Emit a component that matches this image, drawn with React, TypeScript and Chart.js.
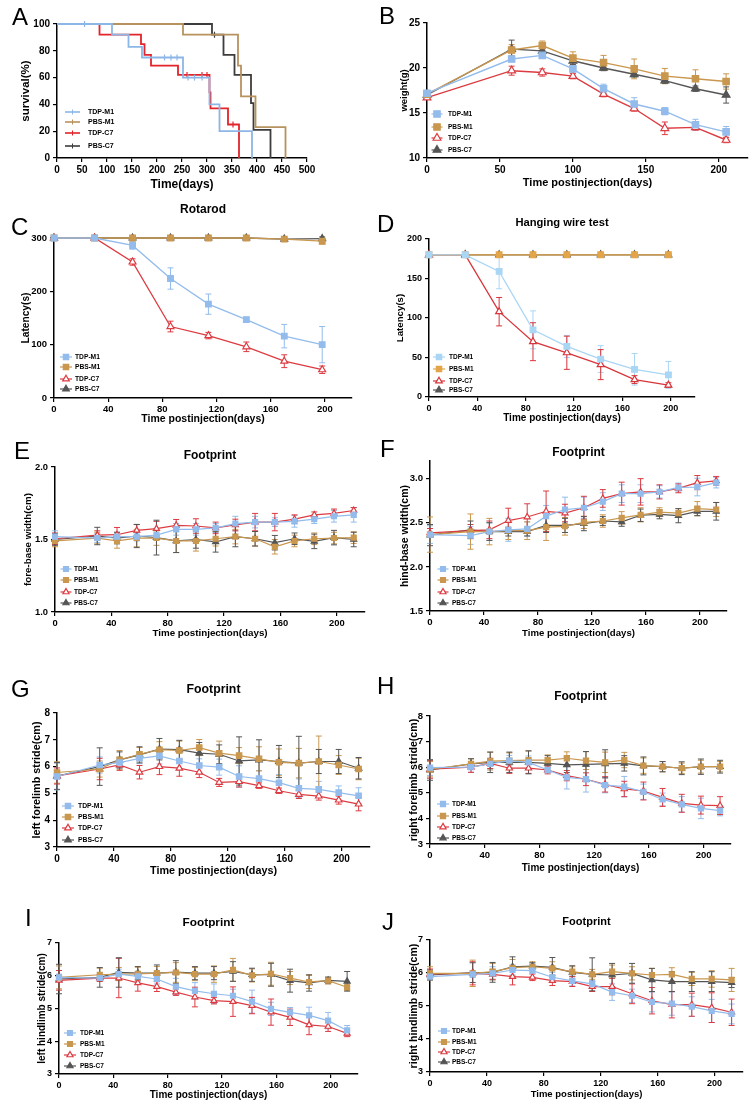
import React, { useEffect, useRef } from "react";
import { Chart, registerables } from "chart.js";

Chart.register(...registerables);

const FONT = "'Liberation Sans', Arial, Helvetica, sans-serif";
Chart.defaults.font.family = FONT;
Chart.defaults.color = "#000";

// ================= DATA =================
const GROUPS = ["TDP-M1", "PBS-M1", "TDP-C7", "PBS-C7"];

// A — survival (Kaplan-Meier), 1 = censored mark
const A_TDP_M1_DAYS = [0, 55, 110, 143, 170, 215, 228, 240, 252, 262, 275, 290, 305, 325, 390];
const A_TDP_M1_SURV = [100, 100, 92, 83, 75, 75, 75, 75, 60, 60, 60, 60, 40, 20, 0];
const A_TDP_M1_CENS = [0, 1, 0, 0, 0, 1, 1, 1, 0, 1, 1, 1, 0, 0, 0];
const A_PBS_M1_DAYS = [0, 252, 362, 368, 397, 457];
const A_PBS_M1_SURV = [100, 92, 69, 46, 23, 0];
const A_PBS_M1_CENS = [0, 0, 0, 0, 0, 0];
const A_TDP_C7_DAYS = [0, 85, 168, 175, 188, 242, 260, 290, 300, 305, 307, 342, 352, 364];
const A_TDP_C7_SURV = [100, 92, 85, 77, 69, 62, 62, 62, 62, 49, 37, 25, 25, 0];
const A_TDP_C7_CENS = [0, 0, 0, 0, 0, 0, 1, 1, 1, 0, 0, 0, 1, 0];
const A_PBS_C7_DAYS = [0, 310, 315, 333, 355, 388, 393, 427];
const A_PBS_C7_SURV = [100, 92, 92, 77, 62, 41, 21, 0];
const A_PBS_C7_CENS = [0, 0, 1, 0, 0, 0, 0, 0];

// B — weight
const WEIGHT_DAYS = [0, 58, 79, 100, 121, 142, 163, 184, 205];
const WEIGHT_TDP_M1 = [17.2, 21.0, 21.4, 19.9, 17.7, 16.0, 15.2, 13.7, 12.9];
const WEIGHT_TDP_M1_SEM = [0.3, 0.3, 0.3, 0.3, 0.5, 0.7, 0.4, 0.6, 0.6];
const WEIGHT_PBS_M1 = [17.1, 22.0, 22.5, 21.1, 20.6, 19.9, 19.1, 18.8, 18.5];
const WEIGHT_PBS_M1_SEM = [0.3, 0.6, 0.5, 0.7, 0.8, 1.1, 0.85, 1.0, 0.85];
const WEIGHT_TDP_C7 = [16.7, 19.7, 19.5, 19.1, 17.1, 15.5, 13.3, 13.4, 12.0];
const WEIGHT_TDP_C7_SEM = [0.2, 0.5, 0.4, 0.3, 0.3, 0.3, 0.7, 0.3, 0.3];
const WEIGHT_PBS_C7 = [17.0, 22.1, 21.9, 20.8, 20.0, 19.3, 18.6, 17.7, 17.0];
const WEIGHT_PBS_C7_SEM = [0.3, 1.0, 0.4, 0.4, 0.3, 0.3, 0.3, 0.3, 0.9];

// C — rotarod, D — hanging wire
const TEST_DAYS = [0, 30, 58, 86, 114, 142, 170, 198];
const ROTAROD_TDP_M1 = [300, 300, 286, 224, 176, 147, 116, 100];
const ROTAROD_TDP_M1_SEM = [0, 0, 7, 20, 19, 4, 22, 34];
const ROTAROD_PBS_M1 = [300, 300, 300, 300, 300, 300, 298, 294];
const ROTAROD_PBS_M1_SEM = [0, 0, 0, 0, 0, 0, 3, 5];
const ROTAROD_TDP_C7 = [300, 300, 255, 134, 117, 96, 69, 53];
const ROTAROD_TDP_C7_SEM = [0, 0, 6, 10, 6, 9, 12, 7];
const ROTAROD_PBS_C7 = [300, 300, 300, 300, 300, 300, 298, 299];
const ROTAROD_PBS_C7_SEM = [0, 0, 0, 0, 0, 0, 2, 3];

const WIRE_TDP_M1 = [180, 180, 159, 85, 64, 48, 35, 28];
const WIRE_TDP_M1_SEM = [0, 0, 22, 24, 14, 17, 20, 17];
const WIRE_PBS_M1 = [180, 180, 180, 180, 180, 180, 180, 180];
const WIRE_PBS_M1_SEM = [0, 0, 0, 0, 0, 0, 0, 0];
const WIRE_TDP_C7 = [180, 180, 108, 70, 56, 41, 22, 15];
const WIRE_TDP_C7_SEM = [0, 0, 18, 24, 21, 19, 5, 3];
const WIRE_PBS_C7 = [180, 180, 180, 180, 180, 180, 180, 180];
const WIRE_PBS_C7_SEM = [0, 0, 0, 0, 0, 0, 0, 0];

// E–J — footprint
const FOOT_DAYS = [0, 30, 44, 58, 72, 86, 100, 114, 128, 142, 156, 170, 184, 198, 212];

const FORE_TDP_M1 = [1.52, 1.51, 1.52, 1.52, 1.53, 1.57, 1.57, 1.58, 1.61, 1.62, 1.62, 1.625, 1.64, 1.66, 1.67];
const FORE_TDP_M1_SEM = [0.04, 0.03, 0.03, 0.03, 0.03, 0.04, 0.04, 0.03, 0.05, 0.04, 0.03, 0.04, 0.03, 0.04, 0.05];
const FORE_PBS_M1 = [1.49, 1.51, 1.49, 1.51, 1.51, 1.49, 1.49, 1.505, 1.52, 1.505, 1.45, 1.49, 1.505, 1.51, 1.513];
const FORE_PBS_M1_SEM = [0.04, 0.04, 0.05, 0.06, 0.05, 0.08, 0.07, 0.05, 0.05, 0.05, 0.05, 0.04, 0.04, 0.04, 0.04];
const FORE_TDP_C7 = [1.505, 1.53, 1.533, 1.563, 1.575, 1.598, 1.593, 1.58, 1.6, 1.62, 1.62, 1.64, 1.67, 1.68, 1.7];
const FORE_TDP_C7_SEM = [0.04, 0.03, 0.05, 0.04, 0.05, 0.04, 0.05, 0.04, 0.04, 0.06, 0.06, 0.03, 0.02, 0.03, 0.02];
const FORE_PBS_C7 = [1.5, 1.524, 1.51, 1.524, 1.513, 1.49, 1.5, 1.483, 1.52, 1.505, 1.478, 1.505, 1.487, 1.513, 1.5];
const FORE_PBS_C7_SEM = [0.04, 0.06, 0.04, 0.08, 0.12, 0.08, 0.06, 0.07, 0.07, 0.05, 0.05, 0.04, 0.05, 0.05, 0.05];

const HIND_TDP_M1 = [2.366, 2.355, 2.4, 2.42, 2.43, 2.575, 2.65, 2.67, 2.74, 2.83, 2.83, 2.85, 2.9, 2.905, 2.955];
const HIND_TDP_M1_SEM = [0.1, 0.1, 0.1, 0.13, 0.08, 0.12, 0.14, 0.12, 0.1, 0.1, 0.1, 0.07, 0.05, 0.1, 0.06];
const HIND_PBS_M1 = [2.366, 2.4, 2.4, 2.41, 2.41, 2.45, 2.46, 2.505, 2.52, 2.556, 2.59, 2.62, 2.61, 2.66, 2.65];
const HIND_PBS_M1_SEM = [0.2, 0.2, 0.15, 0.1, 0.1, 0.15, 0.1, 0.07, 0.07, 0.07, 0.08, 0.05, 0.05, 0.08, 0.08];
const HIND_TDP_C7 = [2.385, 2.41, 2.42, 2.525, 2.565, 2.63, 2.61, 2.67, 2.776, 2.83, 2.85, 2.85, 2.89, 2.955, 2.975];
const HIND_TDP_C7_SEM = [0.05, 0.07, 0.1, 0.14, 0.15, 0.23, 0.1, 0.13, 0.1, 0.13, 0.15, 0.08, 0.05, 0.08, 0.05];
const HIND_PBS_C7 = [2.36, 2.42, 2.4, 2.4, 2.4, 2.47, 2.47, 2.49, 2.52, 2.51, 2.585, 2.595, 2.58, 2.63, 2.63];
const HIND_PBS_C7_SEM = [0.12, 0.1, 0.1, 0.05, 0.05, 0.08, 0.08, 0.08, 0.05, 0.05, 0.07, 0.05, 0.08, 0.05, 0.1];

const LFORE_TDP_M1 = [5.63, 6.06, 6.15, 6.31, 6.4, 6.21, 6.04, 5.98, 5.63, 5.55, 5.4, 5.19, 5.15, 5.03, 4.91];
const LFORE_TDP_M1_SEM = [0.5, 0.3, 0.2, 0.2, 0.3, 0.3, 0.25, 0.3, 0.4, 0.3, 0.3, 0.35, 0.3, 0.25, 0.3];
const LFORE_PBS_M1 = [5.78, 5.91, 6.25, 6.46, 6.63, 6.6, 6.71, 6.5, 6.41, 6.29, 6.16, 6.13, 6.19, 6.06, 5.91];
const LFORE_PBS_M1_SEM = [0.4, 0.3, 0.35, 0.25, 0.3, 0.35, 0.3, 0.45, 0.3, 0.45, 0.5, 0.55, 0.95, 0.35, 0.4];
const LFORE_TDP_C7 = [5.65, 5.91, 6.06, 5.79, 6.0, 5.94, 5.79, 5.41, 5.44, 5.29, 5.1, 4.96, 4.9, 4.75, 4.6];
const LFORE_TDP_C7_SEM = [0.3, 0.4, 0.2, 0.25, 0.3, 0.3, 0.2, 0.15, 0.2, 0.1, 0.1, 0.15, 0.15, 0.15, 0.25];
const LFORE_PBS_C7 = [5.65, 6.0, 6.25, 6.44, 6.65, 6.63, 6.5, 6.46, 6.21, 6.25, 6.19, 6.13, 6.19, 6.19, 5.94];
const LFORE_PBS_C7_SEM = [0.5, 0.7, 0.3, 0.3, 0.4, 0.35, 0.4, 0.35, 0.9, 0.75, 0.6, 1.0, 0.45, 0.45, 0.4];

const RFORE_TDP_M1 = [5.98, 6.0, 6.13, 6.26, 6.19, 5.89, 5.6, 5.53, 5.3, 5.24, 5.04, 4.74, 4.55, 4.39, 4.3];
const RFORE_TDP_M1_SEM = [0.3, 0.2, 0.2, 0.2, 0.25, 0.1, 0.45, 0.5, 0.3, 0.4, 0.3, 0.25, 0.3, 0.4, 0.2];
const RFORE_PBS_M1 = [5.92, 6.13, 6.24, 6.26, 6.28, 6.28, 6.35, 6.26, 6.19, 6.28, 6.06, 6.02, 5.96, 6.02, 6.02];
const RFORE_PBS_M1_SEM = [0.3, 0.2, 0.35, 0.3, 0.35, 0.2, 0.25, 0.35, 0.4, 0.3, 0.3, 0.2, 0.2, 0.25, 0.2];
const RFORE_TDP_C7 = [5.92, 6.0, 6.15, 5.96, 5.96, 5.89, 5.67, 5.53, 5.33, 5.15, 5.07, 4.82, 4.59, 4.52, 4.5];
const RFORE_TDP_C7_SEM = [0.35, 0.2, 0.2, 0.2, 0.2, 0.15, 0.2, 0.25, 0.3, 0.3, 0.35, 0.35, 0.35, 0.35, 0.35];
const RFORE_PBS_C7 = [5.89, 6.13, 6.19, 6.19, 6.19, 6.15, 6.09, 6.11, 6.13, 6.15, 6.05, 6.02, 5.96, 6.02, 6.02];
const RFORE_PBS_C7_SEM = [0.4, 0.2, 0.4, 0.4, 0.45, 0.3, 0.3, 0.5, 0.55, 0.3, 0.35, 0.2, 0.25, 0.3, 0.25];

const LHIND_TDP_M1 = [5.95, 5.93, 6.05, 5.98, 5.9, 5.67, 5.54, 5.45, 5.39, 5.21, 4.99, 4.88, 4.79, 4.63, 4.33];
const LHIND_TDP_M1_SEM = [0.1, 0.1, 0.15, 0.15, 0.15, 0.25, 0.25, 0.3, 0.2, 0.35, 0.2, 0.15, 0.25, 0.25, 0.15];
const LHIND_PBS_M1 = [5.95, 6.03, 6.05, 6.06, 6.08, 6.1, 6.05, 6.05, 6.18, 6.01, 6.06, 5.93, 5.81, 5.85, 5.65];
const LHIND_PBS_M1_SEM = [0.35, 0.2, 0.2, 0.2, 0.2, 0.3, 0.2, 0.25, 0.35, 0.2, 0.35, 0.2, 0.2, 0.1, 0.1];
const LHIND_TDP_C7 = [5.86, 5.93, 5.93, 5.78, 5.67, 5.5, 5.35, 5.24, 5.21, 5.09, 4.89, 4.73, 4.5, 4.45, 4.24];
const LHIND_TDP_C7_SEM = [0.3, 0.1, 0.6, 0.25, 0.15, 0.1, 0.3, 0.1, 0.45, 0.25, 0.4, 0.25, 0.3, 0.15, 0.1];
const LHIND_PBS_C7 = [5.9, 5.95, 6.1, 6.08, 6.08, 6.11, 6.08, 6.08, 6.13, 6.03, 6.03, 5.85, 5.78, 5.86, 5.83];
const LHIND_PBS_C7_SEM = [0.45, 0.3, 0.45, 0.2, 0.25, 0.35, 0.2, 0.2, 0.3, 0.2, 0.35, 0.35, 0.25, 0.1, 0.3];

const RHIND_TDP_M1 = [5.89, 5.96, 5.99, 6.09, 6.07, 5.87, 5.76, 5.67, 5.42, 5.31, 5.12, 5.07, 4.98, 4.85, 4.76];
const RHIND_TDP_M1_SEM = [0.1, 0.1, 0.2, 0.15, 0.2, 0.15, 0.15, 0.1, 0.25, 0.2, 0.3, 0.35, 0.3, 0.35, 0.3];
const RHIND_PBS_M1 = [5.99, 5.99, 6.04, 6.16, 6.19, 6.14, 6.04, 5.96, 6.04, 5.99, 5.94, 5.96, 5.82, 5.82, 5.79];
const RHIND_PBS_M1_SEM = [0.2, 0.4, 0.25, 0.25, 0.15, 0.2, 0.15, 0.15, 0.2, 0.2, 0.2, 0.2, 0.2, 0.25, 0.35];
const RHIND_TDP_C7 = [5.97, 5.99, 5.96, 5.89, 5.87, 5.77, 5.74, 5.59, 5.59, 5.37, 5.16, 5.04, 5.04, 4.95, 4.81];
const RHIND_TDP_C7_SEM = [0.15, 0.35, 0.15, 0.25, 0.1, 0.15, 0.15, 0.15, 0.25, 0.3, 0.4, 0.4, 0.35, 0.45, 0.4];
const RHIND_PBS_C7 = [5.94, 6.01, 6.02, 6.19, 6.21, 6.17, 6.02, 5.96, 5.94, 5.99, 5.79, 5.74, 5.74, 5.74, 5.71];
const RHIND_PBS_C7_SEM = [0.15, 0.3, 0.3, 0.3, 0.1, 0.3, 0.2, 0.5, 0.35, 0.3, 0.35, 0.3, 0.3, 0.3, 0.15];

// tick labels
const X_TICKS_A = [0, 50, 100, 150, 200, 250, 300, 350, 400, 450, 500];
const Y_TICKS_A = [0, 20, 40, 60, 80, 100];
const X_TICKS_B = [0, 50, 100, 150, 200];
const Y_TICKS_B = [10, 15, 20, 25];
const X_TICKS_40 = [0, 40, 80, 120, 160, 200];
const Y_TICKS_C = [0, 100, 200, 300];
const Y_TICKS_D = [0, 50, 100, 150, 200];
const Y_TICKS_E = [1.0, 1.5, 2.0];
const Y_TICKS_F = [1.5, 2.0, 2.5, 3.0];
const Y_TICKS_GH = [3, 4, 5, 6, 7, 8];
const Y_TICKS_IJ = [3, 4, 5, 6, 7];

// ================= STYLE =================
const MARKERS = [
  { style: "rect", filled: true },
  { style: "rect", filled: true },
  { style: "triangle", filled: false },
  { style: "triangle", filled: true },
];
const PAL_A = ["#8cb6e6", "#b8925e", "#e3242b", "#3d3d3d"];
const PAL = ["#93bcec", "#c9974e", "#dc3b41", "#555555"];
const PAL_D = ["#a9d6f5", "#e3a548", "#d8353b", "#555555"];

function kmDataset(i: number, days: number[], surv: number[], cens: number[]) {
  return {
    label: GROUPS[i],
    data: days.map((d, j) => ({ x: d, y: surv[j] })),
    stepped: true,
    borderColor: PAL_A[i],
    backgroundColor: PAL_A[i],
    borderWidth: 1.8,
    pointStyle: "line",
    pointRotation: 90,
    pointRadius: cens.map((c) => (c ? 3 : 0)),
    pointHoverRadius: 0,
    pointBorderColor: PAL_A[i],
    pointBorderWidth: 1.2,
    fill: false,
    clip: false,
  };
}

function seriesSet(days: number[], vals: number[][], sems: number[][], pal: string[], r: number, lw: number) {
  return vals.map((v, i) => ({
    label: GROUPS[i],
    data: days.map((d, j) => ({ x: d, y: v[j] })),
    errors: sems[i],
    borderColor: pal[i],
    backgroundColor: pal[i],
    pointStyle: MARKERS[i].style,
    pointRadius: r,
    pointHoverRadius: r,
    pointBackgroundColor: MARKERS[i].filled ? pal[i] : "#ffffff",
    pointBorderColor: pal[i],
    pointBorderWidth: 1.2,
    borderWidth: lw,
    tension: 0,
    fill: false,
    clip: false,
  }));
}

// ================= PLUGINS =================
const errorBars = {
  id: "errorBars",
  beforeDatasetsDraw(chart: any) {
    const ctx = chart.ctx;
    const xs = chart.scales.x;
    const ys = chart.scales.y;
    chart.data.datasets.forEach((ds: any) => {
      if (!ds.errors) return;
      ctx.save();
      ctx.strokeStyle = ds.borderColor;
      ctx.lineWidth = 1;
      ds.data.forEach((p: any, j: number) => {
        const e = ds.errors[j];
        if (!e) return;
        const x = xs.getPixelForValue(p.x);
        const yt = ys.getPixelForValue(p.y + e);
        const yb = ys.getPixelForValue(p.y - e);
        const c = 3;
        ctx.beginPath();
        ctx.moveTo(x, yt);
        ctx.lineTo(x, yb);
        ctx.moveTo(x - c, yt);
        ctx.lineTo(x + c, yt);
        ctx.moveTo(x - c, yb);
        ctx.lineTo(x + c, yb);
        ctx.stroke();
      });
      ctx.restore();
    });
  },
};

function markerPath(ctx: CanvasRenderingContext2D, style: string, x: number, y: number, r: number) {
  ctx.beginPath();
  if (style === "rect") {
    const s = r * Math.SQRT1_2;
    ctx.rect(x - s, y - s, 2 * s, 2 * s);
  } else {
    let a = 0;
    ctx.moveTo(x + Math.sin(a) * r, y - Math.cos(a) * r);
    a += (2 * Math.PI) / 3;
    ctx.lineTo(x + Math.sin(a) * r, y - Math.cos(a) * r);
    a += (2 * Math.PI) / 3;
    ctx.lineTo(x + Math.sin(a) * r, y - Math.cos(a) * r);
    ctx.closePath();
  }
}

const insetLegend = {
  id: "insetLegend",
  afterDatasetsDraw(chart: any, _args: any, opts: any) {
    if (!opts || !opts.rows) return;
    const ctx = chart.ctx as CanvasRenderingContext2D;
    ctx.save();
    ctx.font = `bold ${opts.size}px ${FONT}`;
    ctx.textBaseline = "middle";
    ctx.textAlign = "left";
    chart.data.datasets.forEach((ds: any, i: number) => {
      const y = opts.rows[i];
      ctx.strokeStyle = ds.borderColor;
      ctx.lineWidth = opts.km ? 1.6 : 1.2;
      ctx.beginPath();
      ctx.moveTo(opts.mx - opts.half, y);
      ctx.lineTo(opts.mx + opts.half, y);
      ctx.stroke();
      if (opts.km) {
        ctx.lineWidth = 1;
        ctx.beginPath();
        ctx.moveTo(opts.mx, y - 2.5);
        ctx.lineTo(opts.mx, y + 2.5);
        ctx.stroke();
      } else {
        markerPath(ctx, ds.pointStyle, opts.mx, y, opts.r);
        ctx.fillStyle = ds.pointBackgroundColor;
        ctx.fill();
        ctx.lineWidth = 1.2;
        ctx.strokeStyle = ds.borderColor;
        ctx.stroke();
      }
      ctx.fillStyle = "#000";
      ctx.fillText(ds.label, opts.tx, y);
    });
    ctx.restore();
  },
};

// ================= PANELS =================
type Panel = {
  box: number[];
  plot: number[];
  x: { min: number; max: number; ticks: number[]; title: string; titleY: number; size: number; tick: number };
  y: { min: number; max: number; ticks: number[]; dec: number; title: string; titleX: number; size: number; tick: number };
  title?: { text: string; y: number; size: number };
  legend: { rows: number[]; mx: number; half: number; tx: number; size: number; r: number; km?: boolean };
  datasets: any[];
};

const XT = "Time postinjection(days)";

const PANELS: Panel[] = [
  {
    box: [0, 0, 378, 200],
    plot: [57, 24, 307, 158],
    x: { min: 0, max: 500, ticks: X_TICKS_A, title: "Time(days)", titleY: 185, size: 12, tick: 10 },
    y: { min: 0, max: 100, ticks: Y_TICKS_A, dec: 0, title: "survival(%)", titleX: 26, size: 11.5, tick: 10 },
    legend: { rows: [112, 122, 133, 146], mx: 72.5, half: 7.5, tx: 88, size: 7, r: 0, km: true },
    datasets: [
      kmDataset(0, A_TDP_M1_DAYS, A_TDP_M1_SURV, A_TDP_M1_CENS),
      kmDataset(1, A_PBS_M1_DAYS, A_PBS_M1_SURV, A_PBS_M1_CENS),
      kmDataset(2, A_TDP_C7_DAYS, A_TDP_C7_SURV, A_TDP_C7_CENS),
      kmDataset(3, A_PBS_C7_DAYS, A_PBS_C7_SURV, A_PBS_C7_CENS),
    ],
  },
  {
    box: [378, 0, 378, 200],
    plot: [427, 23, 748, 158],
    x: { min: 0, max: 220, ticks: X_TICKS_B, title: XT, titleY: 183, size: 11, tick: 10 },
    y: { min: 10, max: 25, ticks: Y_TICKS_B, dec: 0, title: "weight(g)", titleX: 404, size: 9.5, tick: 10 },
    legend: { rows: [114, 127, 138, 150], mx: 437, half: 5.5, tx: 448, size: 6.5, r: 4.5 },
    datasets: seriesSet(
      WEIGHT_DAYS,
      [WEIGHT_TDP_M1, WEIGHT_PBS_M1, WEIGHT_TDP_C7, WEIGHT_PBS_C7],
      [WEIGHT_TDP_M1_SEM, WEIGHT_PBS_M1_SEM, WEIGHT_TDP_C7_SEM, WEIGHT_PBS_C7_SEM],
      PAL, 4.5, 1.4
    ),
  },
  {
    box: [0, 200, 378, 228],
    plot: [54, 238, 352, 398],
    title: { text: "Rotarod", y: 210, size: 12 },
    x: { min: 0, max: 220, ticks: X_TICKS_40, title: XT, titleY: 419, size: 10.5, tick: 9.5 },
    y: { min: 0, max: 300, ticks: Y_TICKS_C, dec: 0, title: "Latency(s)", titleX: 26, size: 10.2, tick: 9.5 },
    legend: { rows: [357, 367, 379, 389], mx: 66, half: 6, tx: 75, size: 6.7, r: 3.8 },
    datasets: seriesSet(
      TEST_DAYS,
      [ROTAROD_TDP_M1, ROTAROD_PBS_M1, ROTAROD_TDP_C7, ROTAROD_PBS_C7],
      [ROTAROD_TDP_M1_SEM, ROTAROD_PBS_M1_SEM, ROTAROD_TDP_C7_SEM, ROTAROD_PBS_C7_SEM],
      PAL, 4, 1.3
    ),
  },
  {
    box: [378, 200, 378, 228],
    plot: [429, 239, 695, 397],
    title: { text: "Hanging wire test", y: 223, size: 11.2 },
    x: { min: 0, max: 220, ticks: X_TICKS_40, title: XT, titleY: 418, size: 10, tick: 9 },
    y: { min: 0, max: 200, ticks: Y_TICKS_D, dec: 0, title: "Latency(s)", titleX: 400, size: 9.7, tick: 9 },
    legend: { rows: [357, 369, 381, 390], mx: 439, half: 6, tx: 449, size: 6.5, r: 3.8 },
    datasets: seriesSet(
      TEST_DAYS,
      [WIRE_TDP_M1, WIRE_PBS_M1, WIRE_TDP_C7, WIRE_PBS_C7],
      [WIRE_TDP_M1_SEM, WIRE_PBS_M1_SEM, WIRE_TDP_C7_SEM, WIRE_PBS_C7_SEM],
      PAL_D, 4, 1.3
    ),
  },
  {
    box: [0, 430, 378, 215],
    plot: [55, 467, 365, 612],
    title: { text: "Footprint", y: 456, size: 12 },
    x: { min: 0, max: 220, ticks: X_TICKS_40, title: XT, titleY: 633, size: 9.8, tick: 9.4 },
    y: { min: 1.0, max: 2.0, ticks: Y_TICKS_E, dec: 1, title: "fore-base width(cm)", titleX: 28, size: 9.8, tick: 9.4 },
    legend: { rows: [569, 580, 592, 603], mx: 66, half: 5.5, tx: 74, size: 6.5, r: 3.5 },
    datasets: seriesSet(
      FOOT_DAYS,
      [FORE_TDP_M1, FORE_PBS_M1, FORE_TDP_C7, FORE_PBS_C7],
      [FORE_TDP_M1_SEM, FORE_PBS_M1_SEM, FORE_TDP_C7_SEM, FORE_PBS_C7_SEM],
      PAL, 3.5, 1.2
    ),
  },
  {
    box: [378, 430, 378, 215],
    plot: [430, 461, 727, 611],
    title: { text: "Footprint", y: 453, size: 12 },
    x: { min: 0, max: 220, ticks: X_TICKS_40, title: XT, titleY: 633, size: 9.6, tick: 9.6 },
    y: { min: 1.5, max: 3.2, ticks: Y_TICKS_F, dec: 1, title: "hind-base width(cm)", titleX: 405, size: 10.5, tick: 9.6 },
    legend: { rows: [569, 580, 592, 603], mx: 443, half: 5.5, tx: 452, size: 6.5, r: 3.5 },
    datasets: seriesSet(
      FOOT_DAYS,
      [HIND_TDP_M1, HIND_PBS_M1, HIND_TDP_C7, HIND_PBS_C7],
      [HIND_TDP_M1_SEM, HIND_PBS_M1_SEM, HIND_TDP_C7_SEM, HIND_PBS_C7_SEM],
      PAL, 3.5, 1.2
    ),
  },
  {
    box: [0, 670, 378, 215],
    plot: [57, 713, 370, 847],
    title: { text: "Footprint", y: 690, size: 12.3 },
    x: { min: 0, max: 220, ticks: X_TICKS_40, title: XT, titleY: 871, size: 10.8, tick: 10 },
    y: { min: 3, max: 8, ticks: Y_TICKS_GH, dec: 0, title: "left forelimb stride(cm)", titleX: 37, size: 10.8, tick: 10 },
    legend: { rows: [806, 817, 828, 840], mx: 68, half: 6, tx: 78, size: 6.8, r: 3.8 },
    datasets: seriesSet(
      FOOT_DAYS,
      [LFORE_TDP_M1, LFORE_PBS_M1, LFORE_TDP_C7, LFORE_PBS_C7],
      [LFORE_TDP_M1_SEM, LFORE_PBS_M1_SEM, LFORE_TDP_C7_SEM, LFORE_PBS_C7_SEM],
      PAL, 3.8, 1.2
    ),
  },
  {
    box: [378, 670, 378, 215],
    plot: [430, 716, 731, 844],
    title: { text: "Footprint", y: 697, size: 12 },
    x: { min: 0, max: 220, ticks: X_TICKS_40, title: XT, titleY: 868, size: 10, tick: 9.5 },
    y: { min: 3, max: 8, ticks: Y_TICKS_GH, dec: 0, title: "right forelimb stride(cm)", titleX: 414, size: 10.6, tick: 9.5 },
    legend: { rows: [804, 816, 827, 838], mx: 443, half: 6, tx: 452, size: 6.5, r: 3.6 },
    datasets: seriesSet(
      FOOT_DAYS,
      [RFORE_TDP_M1, RFORE_PBS_M1, RFORE_TDP_C7, RFORE_PBS_C7],
      [RFORE_TDP_M1_SEM, RFORE_PBS_M1_SEM, RFORE_TDP_C7_SEM, RFORE_PBS_C7_SEM],
      PAL, 3.6, 1.2
    ),
  },
  {
    box: [0, 885, 378, 220],
    plot: [59, 943, 358, 1074],
    title: { text: "Footprint", y: 923, size: 11.8 },
    x: { min: 0, max: 220, ticks: X_TICKS_40, title: XT, titleY: 1095, size: 10, tick: 9 },
    y: { min: 3, max: 7, ticks: Y_TICKS_IJ, dec: 0, title: "left hindlimb stride(cm)", titleX: 42, size: 10, tick: 9 },
    legend: { rows: [1033, 1044, 1055, 1066], mx: 70, half: 6, tx: 80, size: 6.5, r: 3.5 },
    datasets: seriesSet(
      FOOT_DAYS,
      [LHIND_TDP_M1, LHIND_PBS_M1, LHIND_TDP_C7, LHIND_PBS_C7],
      [LHIND_TDP_M1_SEM, LHIND_PBS_M1_SEM, LHIND_TDP_C7_SEM, LHIND_PBS_C7_SEM],
      PAL, 3.5, 1.2
    ),
  },
  {
    box: [378, 885, 378, 220],
    plot: [430, 940, 743, 1072],
    title: { text: "Footprint", y: 922, size: 11 },
    x: { min: 0, max: 220, ticks: X_TICKS_40, title: XT, titleY: 1094, size: 9.5, tick: 9 },
    y: { min: 3, max: 7, ticks: Y_TICKS_IJ, dec: 0, title: "right hindlimb stride(cm)", titleX: 414, size: 10.6, tick: 9 },
    legend: { rows: [1031, 1042, 1052, 1062], mx: 444, half: 6, tx: 452, size: 6.5, r: 3.5 },
    datasets: seriesSet(
      FOOT_DAYS,
      [RHIND_TDP_M1, RHIND_PBS_M1, RHIND_TDP_C7, RHIND_PBS_C7],
      [RHIND_TDP_M1_SEM, RHIND_PBS_M1_SEM, RHIND_TDP_C7_SEM, RHIND_PBS_C7_SEM],
      PAL, 3.5, 1.2
    ),
  },
];

const LETTERS = [
  { ch: "A", x: 12, y: 8 },
  { ch: "B", x: 379, y: 7 },
  { ch: "C", x: 11, y: 218 },
  { ch: "D", x: 377, y: 215 },
  { ch: "E", x: 14, y: 442 },
  { ch: "F", x: 380, y: 440 },
  { ch: "G", x: 11, y: 680 },
  { ch: "H", x: 377, y: 677 },
  { ch: "I", x: 25, y: 909 },
  { ch: "J", x: 382, y: 913 },
];

function buildConfig(p: Panel): any {
  const [cl, ct, cw, ch] = p.box;
  const [L, T, R, B] = p.plot;
  const yAxisW = L - cl;
  const xAxisH = ct + ch - B;
  const topH = T - ct;
  let titleOpts: any = { display: false };
  if (p.title) {
    const pt = p.title.y - ct - 0.6 * p.title.size;
    titleOpts = {
      display: true,
      text: p.title.text,
      fullSize: false,
      color: "#000",
      font: { family: FONT, size: p.title.size, weight: "bold", lineHeight: 1.2 },
      padding: { top: pt, bottom: topH - pt - 1.2 * p.title.size },
    };
  }
  const tickGrid = { display: true, drawOnChartArea: false, drawTicks: true, tickLength: 4, color: "#000", lineWidth: 1.2 };
  const border = { display: true, color: "#000", width: 1.5 };
  return {
    type: "line",
    data: { datasets: p.datasets },
    options: {
      animation: false,
      responsive: true,
      maintainAspectRatio: false,
      events: [],
      layout: { padding: { left: 0, top: p.title ? 0 : topH, right: cl + cw - R, bottom: 0 } },
      plugins: {
        legend: { display: false },
        tooltip: { enabled: false },
        title: titleOpts,
        insetLegend: {
          rows: p.legend.rows.map((r) => r - ct),
          mx: p.legend.mx - cl,
          half: p.legend.half,
          tx: p.legend.tx - cl,
          size: p.legend.size,
          r: p.legend.r,
          km: !!p.legend.km,
        },
      },
      scales: {
        x: {
          type: "linear",
          min: p.x.min,
          max: p.x.max,
          afterBuildTicks: (s: any) => {
            s.ticks = p.x.ticks.map((v) => ({ value: v }));
          },
          afterFit: (s: any) => {
            s.height = xAxisH;
          },
          ticks: {
            font: { size: p.x.tick, weight: "bold", family: FONT },
            color: "#000",
            padding: 2,
            maxRotation: 0,
            autoSkip: false,
            callback: (v: any) => String(v),
          },
          grid: tickGrid,
          border,
          title: {
            display: true,
            text: p.x.title,
            color: "#000",
            font: { size: p.x.size, weight: "bold", family: FONT, lineHeight: 1.2 },
            padding: { top: 0, bottom: ct + ch - p.x.titleY - 0.6 * p.x.size },
          },
        },
        y: {
          type: "linear",
          min: p.y.min,
          max: p.y.max,
          afterBuildTicks: (s: any) => {
            s.ticks = p.y.ticks.map((v) => ({ value: v }));
          },
          afterFit: (s: any) => {
            s.width = yAxisW;
          },
          ticks: {
            font: { size: p.y.tick, weight: "bold", family: FONT },
            color: "#000",
            padding: 3,
            autoSkip: false,
            callback: (v: any) => Number(v).toFixed(p.y.dec),
          },
          grid: tickGrid,
          border,
          title: {
            display: true,
            text: p.y.title,
            color: "#000",
            font: { size: p.y.size, weight: "bold", family: FONT, lineHeight: 1.2 },
            padding: { top: p.y.titleX - cl - 0.6 * p.y.size, bottom: 0 },
          },
        },
      },
    },
    plugins: [errorBars, insetLegend],
  };
}

function ChartPanel({ panel }: { panel: Panel }) {
  const ref = useRef<HTMLCanvasElement>(null);
  useEffect(() => {
    const chart = new Chart(ref.current as HTMLCanvasElement, buildConfig(panel));
    return () => chart.destroy();
  }, [panel]);
  const [l, t, w, h] = panel.box;
  return (
    <div style={{ position: "absolute", left: l, top: t, width: w, height: h }}>
      <canvas ref={ref} />
    </div>
  );
}

export default function App() {
  return (
    <div
      style={{
        position: "fixed",
        left: 0,
        top: 0,
        width: 756,
        height: 1105,
        background: "#fff",
        overflow: "hidden",
      }}
    >
      {PANELS.map((p, i) => (
        <ChartPanel key={i} panel={p} />
      ))}
      {LETTERS.map((l) => (
        <div
          key={l.ch}
          style={{
            position: "absolute",
            left: l.x,
            top: l.y - 3,
            fontFamily: FONT,
            fontSize: 24,
            lineHeight: "24px",
            color: "#000",
          }}
        >
          {l.ch}
        </div>
      ))}
    </div>
  );
}
